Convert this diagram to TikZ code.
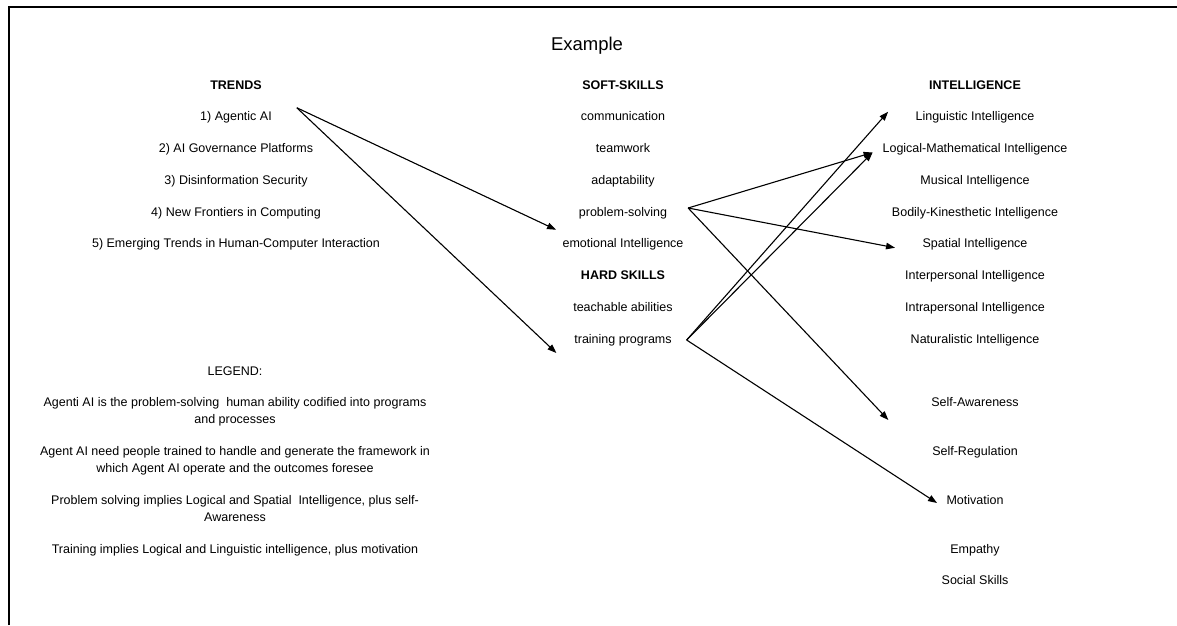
\documentclass[tikz,border=0pt]{standalone}
\usepackage{fontspec}
\setmainfont{Liberation Sans}
\usetikzlibrary{arrows.meta,positioning}

\begin{document}
\begin{tikzpicture}[x=1pt,y=-1pt,
 node distance=19.75pt,
 item/.style={inner sep=0pt,outer sep=0pt,text height=9pt,text depth=3pt,
   font=\fontsize{12.5}{17.5}\selectfont},
 head/.style={item,font=\fontsize{12.5}{17.5}\selectfont\bfseries},
 legtext/.style={inner sep=0pt,outer sep=0pt,align=center,
   font=\fontsize{12.5}{17.5}\selectfont},
 arr/.style={-{Triangle[length=9pt,width=6.5pt]},line width=1.1pt},
 rim/.style={line width=2pt,line join=miter}]
\useasboundingbox (0,0) rectangle (1177,625);
\draw[rim] (9,625) -- (9,7) -- (1177,7);
\node[inner sep=0pt,font=\fontsize{18.5}{22}\selectfont] (title) at (587,46) {Example};
% trends
\node[head] (trends) at (236,86) {TRENDS};
\node[item,below=of trends] (agentic) {1) Agentic AI};
\node[item,below=of agentic] (governance) {2) AI Governance Platforms};
\node[item,below=of governance] (disinfo) {3) Disinformation Security};
\node[item,below=of disinfo] (frontiers) {4) New Frontiers in Computing};
\node[item,below=of frontiers] (hci) {5) Emerging Trends in Human-Computer Interaction};
% skills
\node[head] (softhead) at (623,86) {SOFT-SKILLS};
\node[item,below=of softhead] (comm) {communication};
\node[item,below=of comm] (team) {teamwork};
\node[item,below=of team] (adapt) {adaptability};
\node[item,below=of adapt] (probsolve) {problem-solving};
\node[item,below=of probsolve] (emo) {emotional Intelligence};
\node[head,below=of emo] (hardhead) {HARD SKILLS};
\node[item,below=of hardhead] (teach) {teachable abilities};
\node[item,below=of teach] (training) {training programs};
% intelligence
\node[head] (intelhead) at (975,86) {INTELLIGENCE};
\node[item,below=of intelhead] (ling) {Linguistic Intelligence};
\node[item,below=of ling] (logic) {Logical-Mathematical Intelligence};
\node[item,below=of logic] (music) {Musical Intelligence};
\node[item,below=of music] (bodily) {Bodily-Kinesthetic Intelligence};
\node[item,below=of bodily] (spatial) {Spatial Intelligence};
\node[item,below=of spatial] (inter) {Interpersonal Intelligence};
\node[item,below=of inter] (intra) {Intrapersonal Intelligence};
\node[item,below=of intra] (natural) {Naturalistic Intelligence};
\node[item,below=51pt of natural] (selfaware) {Self-Awareness};
\node[item,below=37pt of selfaware] (selfreg) {Self-Regulation};
\node[item,below=37pt of selfreg] (motiv) {Motivation};
\node[item,below=37pt of motiv] (empathy) {Empathy};
\node[item,below=of empathy] (social) {Social Skills};
% legend
\node[item] (legend) at (235,372) {LEGEND:};
\node[legtext,below=19pt of legend] (leg1) {Agenti AI is the problem-solving~ human ability codified into programs\\and processes};
\node[legtext,below=20pt of leg1] (leg2) {Agent AI need people trained to handle and generate the framework in\\which Agent AI operate and the outcomes foresee};
\node[legtext,below=20pt of leg2] (leg3) {Problem solving implies Logical and Spatial~ Intelligence, plus self-\\Awareness};
\node[legtext,below=22.5pt of leg3] (leg4) {Training implies Logical and Linguistic intelligence, plus motivation};
% arrows
\draw[arr] ([xshift=25pt,yshift=4pt]agentic.north east) -- ([xshift=-6.5pt,yshift=9pt]emo.north west);
\draw[arr] ([xshift=25pt,yshift=4pt]agentic.north east) -- ([xshift=-18pt,yshift=-7pt]training.south west);
\draw[arr] ([xshift=21pt,yshift=5pt]probsolve.east) -- ([xshift=-10pt,yshift=-3pt]logic.west);
\draw[arr] ([xshift=21pt,yshift=5pt]probsolve.east) -- ([xshift=-27.5pt,yshift=-3pt]spatial.west);
\draw[arr] ([xshift=21pt,yshift=5pt]probsolve.east) -- ([xshift=-43pt,yshift=-11pt]selfaware.south west);
\draw[arr] ([xshift=15pt]training.east) -- ([xshift=-27.5pt,yshift=6pt]ling.west);
\draw[arr] ([xshift=15pt]training.east) -- ([xshift=-10pt,yshift=-3pt]logic.west);
\draw[arr] ([xshift=15pt]training.east) -- ([xshift=-9.5pt,yshift=-2pt]motiv.west);
\end{tikzpicture}
\end{document}
